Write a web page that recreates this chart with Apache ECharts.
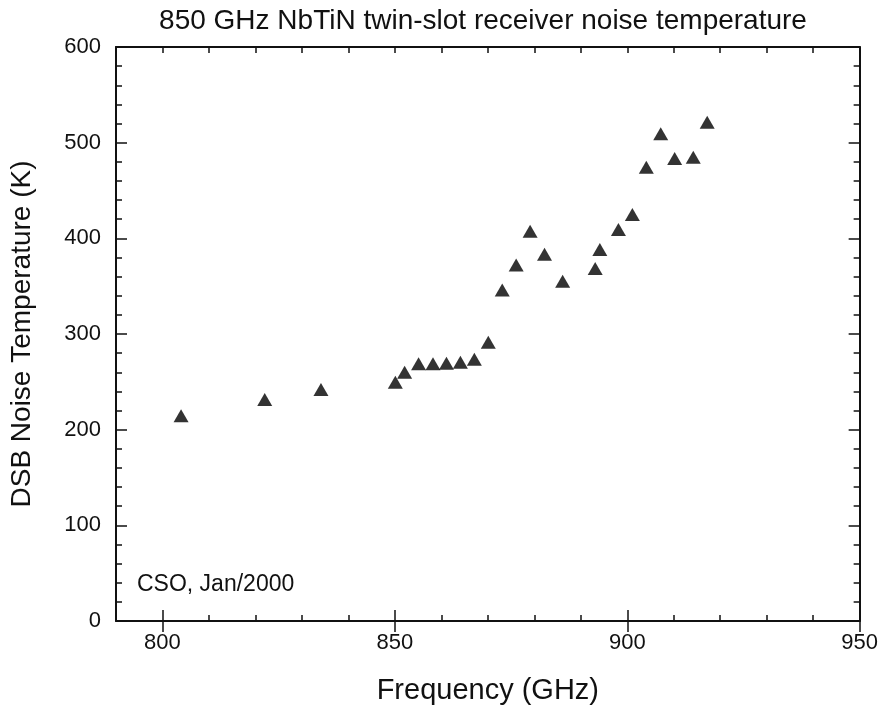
<!DOCTYPE html>
<html>
<head>
<meta charset="utf-8">
<script src="https://cdn.jsdelivr.net/npm/echarts@6/dist/echarts.min.js"></script>
<style>
html,body{margin:0;padding:0;background:#fff;}
#chart{width:881px;height:711px;}
</style>
</head>
<body>
<div id="chart"></div>
<script>
// Data
const frequencyGHz = [804.0, 822.0, 834.1, 850.1, 852.1, 855.1, 858.2, 861.1, 864.1, 867.1, 870.1,
  873.1, 876.1, 879.1, 882.2, 886.1, 893.1, 894.1, 898.1, 901.1, 904.1, 907.2, 910.2, 914.2, 917.2];
const noiseTempK = [214.5, 231.5, 242, 249.6, 260, 268.8, 268.8, 269.5, 270.5, 273.6, 291.4,
  346, 372, 407.4, 383.4, 355.2, 368.5, 388.3, 409.2, 424.9, 474.3, 509.2, 483.4, 484.8, 521.4];
const xTickLabels = [800, 850, 900, 950];
const yTickLabels = [0, 100, 200, 300, 400, 500, 600];
const titleText = '850 GHz NbTiN twin-slot receiver noise temperature';
const xName = 'Frequency (GHz)';
const yName = 'DSB Noise Temperature (K)';
const noteText = 'CSO, Jan/2000';

const FONT = '"Liberation Sans", Arial, Helvetica, sans-serif';
const INK = '#111111';

const chart = echarts.init(document.getElementById('chart'), null, {renderer: 'canvas'});

function xAx(opts) {
  return Object.assign({
    type: 'value', min: 790, max: 950, gridIndex: 0,
    splitLine: {show: false},
    axisLine: {show: false},
    axisLabel: {show: false},
    axisTick: {show: false}
  }, opts);
}
function yAx(opts) {
  return Object.assign({
    type: 'value', min: 0, max: 600, gridIndex: 0,
    splitLine: {show: false},
    axisLine: {show: false},
    axisLabel: {show: false},
    axisTick: {show: false}
  }, opts);
}

const xData = frequencyGHz.map((f, i) => [f, noiseTempK[i]]);

const option = {
  backgroundColor: '#fff',
  animation: false,
  title: {
    text: titleText,
    left: 478, top: 2,
    textAlign: 'center',
    textStyle: {fontFamily: FONT, fontSize: 28, fontWeight: 'normal', color: INK}
  },
  grid: {left: 115, right: 19, top: 47, bottom: 90, containLabel: false},
  xAxis: [
    xAx({
      position: 'bottom', interval: 10,
      axisLine: {show: true, onZero: false, lineStyle: {color: INK, width: 2}},
      axisTick: {show: true, inside: true, length: 6, lineStyle: {color: INK, width: 1.5}},
      axisLabel: {
        show: true, margin: 11, fontFamily: FONT, fontSize: 22, color: INK,
        formatter: v => (xTickLabels.indexOf(Math.round(v)) >= 0 ? String(Math.round(v)) : '')
      },
      name: xName, nameLocation: 'middle', nameGap: 55,
      nameTextStyle: {fontFamily: FONT, fontSize: 29, color: INK}
    }),
    xAx({
      position: 'bottom',
      axisTick: {show: true, inside: true, length: 11, customValues: xTickLabels, lineStyle: {color: INK, width: 1.5}}
    }),
    xAx({
      position: 'top', interval: 10,
      axisLine: {show: true, onZero: false, lineStyle: {color: INK, width: 2}},
      axisTick: {show: true, inside: true, length: 6, lineStyle: {color: INK, width: 1.5}}
    }),
    xAx({
      position: 'top',
      axisTick: {show: true, inside: true, length: 11, customValues: xTickLabels, lineStyle: {color: INK, width: 1.5}}
    })
  ],
  yAxis: [
    yAx({
      position: 'left', interval: 20,
      axisLine: {show: true, onZero: false, lineStyle: {color: INK, width: 2}},
      axisTick: {show: true, inside: true, length: 6, lineStyle: {color: INK, width: 1.5}},
      axisLabel: {
        show: true, margin: 15, fontFamily: FONT, fontSize: 22, color: INK,
        formatter: v => (yTickLabels.indexOf(Math.round(v)) >= 0 ? String(Math.round(v)) : '')
      },
      name: yName, nameLocation: 'middle', nameGap: 80, nameRotate: 90,
      nameTextStyle: {fontFamily: FONT, fontSize: 28, color: INK}
    }),
    yAx({
      position: 'left', interval: 100,
      axisTick: {show: true, inside: true, length: 11, lineStyle: {color: INK, width: 1.5}}
    }),
    yAx({
      position: 'right', interval: 20,
      axisLine: {show: true, onZero: false, lineStyle: {color: INK, width: 2}},
      axisTick: {show: true, inside: true, length: 6, lineStyle: {color: INK, width: 1.5}}
    }),
    yAx({
      position: 'right', interval: 100,
      axisTick: {show: true, inside: true, length: 11, lineStyle: {color: INK, width: 1.5}}
    })
  ],
  graphic: [{
    type: 'text', left: 137, top: 573,
    style: {text: noteText, fontFamily: FONT, fontSize: 23, fill: INK}
  }],
  series: [{
    type: 'scatter',
    xAxisIndex: 0, yAxisIndex: 0,
    symbol: 'triangle',
    symbolSize: [15, 13],
    itemStyle: {color: '#000000'},
    data: xData
  }]
};
chart.setOption(option);
</script>
</body>
</html>
